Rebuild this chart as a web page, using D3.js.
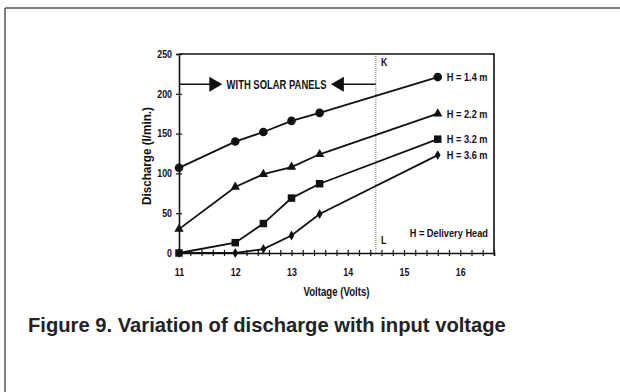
<!DOCTYPE html>
<html lang="en">
<head>
    <meta charset="UTF-8">
    <title>Variation of discharge with input voltage</title>
    <script src="https://d3js.org/d3.v7.min.js"></script>
    <style>
        body {
            margin: 0;
            background: #fff;
        }
        .narrow {
            font-family: "Liberation Sans Narrow", "Arial Narrow", "Liberation Sans", sans-serif;
            font-weight: bold;
            fill: #111;
        }
        .caption {
            font-family: "Liberation Sans", Arial, sans-serif;
            font-weight: bold;
            font-size: 20.2px;
            fill: #222;
        }
    </style>
</head>
<body>
    <div id="chart"></div>
    <script>
        var width = 620,
            height = 392;

        // data
        var voltage = [11, 12, 12.5, 13, 13.5, 15.6];
        var h14 = [107, 140, 152, 166, 176, 221];
        var h22 = [30, 83, 99, 108, 124, 175];
        var h32 = [0, 13, 37, 69, 87, 143];
        var h36 = [0, 0, 5, 22, 49, 123];
        var seriesLabels = ["H = 1.4 m", "H = 2.2 m", "H = 3.2 m", "H = 3.6 m"];
        var markerTypes = ["circle", "triangle", "square", "diamond"];
        var xTickLabels = [11, 12, 13, 14, 15, 16];
        var yTickLabels = [0, 50, 100, 150, 200, 250];

        var series = [h14, h22, h32, h36].map(function(vals, i) {
            return {
                label: seriesLabels[i],
                marker: markerTypes[i],
                points: vals.map(function(v, j) { return { x: voltage[j], y: v }; })
            };
        });

        var svg = d3.select("#chart").append("svg")
            .attr("width", width)
            .attr("height", height);

        // page border (top + left only)
        svg.append("line").attr("x1", 5).attr("y1", 8).attr("x2", width).attr("y2", 8)
            .attr("stroke", "#555").attr("stroke-width", 1.5);
        svg.append("line").attr("x1", 5).attr("y1", 8).attr("x2", 5).attr("y2", height)
            .attr("stroke", "#555").attr("stroke-width", 1.5);

        var x = d3.scaleLinear().domain([11, 16.6]).range([179, 494]);
        var y = d3.scaleLinear().domain([0, 250]).range([253, 54]);

        // frame: top and right
        svg.append("path")
            .attr("d", "M" + x(11) + "," + y(250) + "H" + x(16.6) + "V" + y(0))
            .attr("fill", "none").attr("stroke", "#111").attr("stroke-width", 1.6);

        // x axis, minor ticks every 0.2
        var xTicks = d3.range(0, 29).map(function(i) { return +(11 + i * 0.2).toFixed(1); });
        var xAxis = svg.append("g")
            .attr("transform", "translate(0," + y(0) + ")")
            .call(d3.axisBottom(x)
                .tickValues(xTicks)
                .tickSize(3)
                .tickPadding(13)
                .tickFormat(function(d) { return xTickLabels.indexOf(d) >= 0 ? d : ""; }));
        xAxis.select(".domain").attr("stroke", "#111").attr("stroke-width", 1.6);
        xAxis.selectAll(".tick line").attr("y1", -3).attr("stroke", "#111").attr("stroke-width", 1.2);
        xAxis.selectAll("text").attr("class", "narrow").style("font-size", "10.5px");

        var yAxis = svg.append("g")
            .attr("transform", "translate(" + x(11) + ",0)")
            .call(d3.axisLeft(y)
                .tickValues(yTickLabels)
                .tickSize(3)
                .tickPadding(4));
        yAxis.select(".domain").attr("stroke", "#111").attr("stroke-width", 1.6);
        yAxis.selectAll(".tick line").attr("x1", 3).attr("stroke", "#111").attr("stroke-width", 1.2);
        yAxis.selectAll("text").attr("class", "narrow").style("font-size", "10.5px");

        // axis titles
        svg.append("text").attr("class", "narrow fixed")
            .attr("x", (x(11) + x(16.6)) / 2).attr("y", 296)
            .attr("textLength", 66).attr("lengthAdjust", "spacingAndGlyphs")
            .style("font-size", "12px").style("text-anchor", "middle")
            .text("Voltage (Volts)");
        svg.append("text").attr("class", "narrow fixed")
            .attr("transform", "translate(151," + 156 + ") rotate(-90)")
            .attr("textLength", 98).attr("lengthAdjust", "spacingAndGlyphs")
            .style("font-size", "12.5px").style("text-anchor", "middle")
            .text("Discharge (l/min.)");

        // dotted K-L line
        svg.append("line")
            .attr("x1", x(14.5)).attr("x2", x(14.5))
            .attr("y1", y(250)).attr("y2", y(0))
            .attr("stroke", "#666").attr("stroke-width", 1).attr("stroke-dasharray", "1,1");
        svg.append("text").attr("class", "narrow").style("font-size", "10.5px")
            .attr("x", x(14.5) + 5).attr("y", y(250) + 12).text("K");
        svg.append("text").attr("class", "narrow").style("font-size", "10.5px")
            .attr("x", x(14.5) + 5).attr("y", y(0) - 9).text("L");

        // "WITH SOLAR PANELS" arrows
        var arrowY = y(212);
        var tipR = x(11.77), tipL = x(13.7);
        svg.append("line").attr("x1", x(11)).attr("x2", tipR - 6).attr("y1", arrowY).attr("y2", arrowY)
            .attr("stroke", "#111").attr("stroke-width", 1.6);
        svg.append("path")
            .attr("d", "M" + (tipR - 13) + "," + (arrowY - 7.5) + "L" + tipR + "," + arrowY + "L" + (tipR - 13) + "," + (arrowY + 7.5) + "Z")
            .attr("fill", "#111");
        svg.append("line").attr("x1", tipL + 6).attr("x2", x(14.5)).attr("y1", arrowY).attr("y2", arrowY)
            .attr("stroke", "#111").attr("stroke-width", 1.6);
        svg.append("path")
            .attr("d", "M" + (tipL + 13) + "," + (arrowY - 7.5) + "L" + tipL + "," + arrowY + "L" + (tipL + 13) + "," + (arrowY + 7.5) + "Z")
            .attr("fill", "#111");
        svg.append("text").attr("class", "narrow fixed")
            .attr("x", (tipR + tipL) / 2).attr("y", arrowY + 4.5)
            .attr("textLength", 100).attr("lengthAdjust", "spacingAndGlyphs")
            .style("font-size", "12px").style("text-anchor", "middle")
            .text("WITH SOLAR PANELS");

        // series lines
        var line = d3.line()
            .x(function(d) { return x(d.x); })
            .y(function(d) { return y(d.y); });

        svg.selectAll(".series")
            .data(series)
            .enter().append("path")
            .attr("class", "series")
            .attr("d", function(d) { return line(d.points); })
            .attr("fill", "none")
            .attr("stroke", "#111")
            .attr("stroke-width", 1.8);

        var symbols = {
            circle: d3.symbol().type(d3.symbolCircle).size(58),
            triangle: d3.symbol().type(d3.symbolTriangle).size(38),
            square: d3.symbol().type(d3.symbolSquare).size(56),
            diamond: d3.symbol().type(d3.symbolDiamond).size(28)
        };

        series.forEach(function(s) {
            svg.selectAll(null)
                .data(s.points)
                .enter().append("path")
                .attr("transform", function(d) { return "translate(" + x(d.x) + "," + y(d.y) + ")"; })
                .attr("d", symbols[s.marker]())
                .attr("fill", "#111");

            var last = s.points[s.points.length - 1];
            svg.append("text").attr("class", "narrow")
                .attr("x", x(last.x) + 9).attr("y", y(last.y) + 4)
                .style("font-size", "11px")
                .text(s.label);
        });

        svg.append("text").attr("class", "narrow")
            .attr("x", 488).attr("y", 237)
            .style("font-size", "11px").style("text-anchor", "end")
            .text("H = Delivery Head");

        // squeeze the remaining labels to look like a narrow face
        svg.selectAll(".narrow:not(.fixed)").each(function() {
            var w = this.getComputedTextLength();
            if (w > 0) {
                this.setAttribute("textLength", w * 0.84);
                this.setAttribute("lengthAdjust", "spacingAndGlyphs");
            }
        });

        // caption
        svg.append("text").attr("class", "caption")
            .attr("x", 28).attr("y", 332)
            .text("Figure 9. Variation of discharge with input voltage");
    </script>
</body>
</html>
